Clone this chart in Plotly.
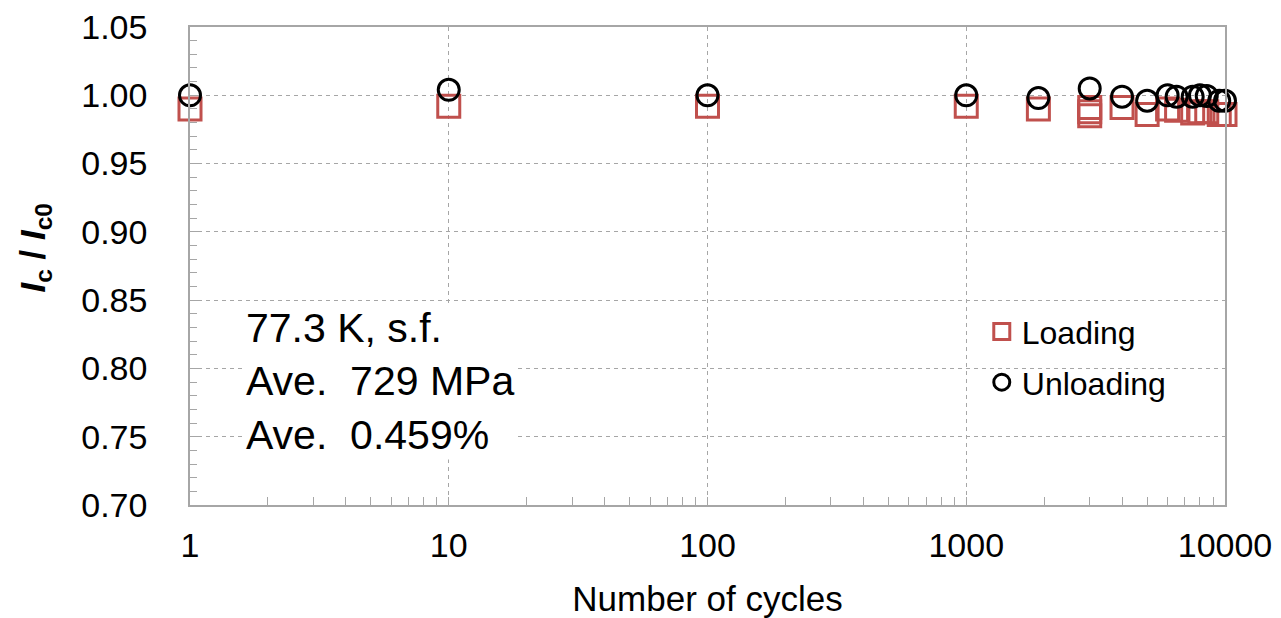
import plotly.graph_objects as go

# Cycle counts and normalised critical current (Ic / Ic0)
loading_cycles = [1, 10, 100, 1000, 1900, 3000, 3000, 3000, 4000, 5000,
                  6000, 6500, 7500, 8000, 8500, 9500, 10000]
loading_ratio = [0.990, 0.992, 0.992, 0.992, 0.990, 0.991, 0.988, 0.985, 0.991, 0.986,
                 0.990, 0.989, 0.987, 0.988, 0.988, 0.986, 0.986]

unloading_cycles = [1, 10, 100, 1000, 1900, 3000, 4000, 5000,
                    6000, 6500, 7500, 8000, 8500, 9500, 10000]
unloading_ratio = [1.000, 1.004, 1.000, 1.000, 0.998, 1.005, 0.999, 0.996,
                   1.000, 0.999, 0.999, 1.000, 0.9995, 0.996, 0.996]

x_tick_vals = [1, 10, 100, 1000, 10000]
x_tick_text = ["1", "10", "100", "1000", "10000"]

condition_lines = ["77.3 K, s.f.", "Ave.  729 MPa", "Ave.  0.459%"]

FONT = "Arial, Liberation Sans, sans-serif"
AXIS_GRAY = "#a6a6a6"
RED = "#c0504d"

fig = go.Figure()

fig.add_trace(go.Scatter(
    x=loading_cycles, y=loading_ratio, mode="markers", name="Loading",
    legendgroup="a",
    marker=dict(symbol="square-open", size=22, color=RED, line=dict(width=3, color=RED)),
    cliponaxis=False,
))
fig.add_trace(go.Scatter(
    x=unloading_cycles, y=unloading_ratio, mode="markers", name="Unloading",
    legendgroup="b",
    marker=dict(symbol="circle-open", size=21, color="black", line=dict(width=3, color="black")),
    cliponaxis=False,
))

# test-condition box
fig.add_annotation(
    xref="paper", yref="paper", x=0.052, y=0.258,
    xanchor="left", yanchor="middle", align="left",
    text="<br>".join(condition_lines),
    showarrow=False, bgcolor="white", borderpad=1,
    font=dict(family=FONT, size=41, color="black"),
)

# y-axis title, placed by hand
fig.add_annotation(
    xref="paper", yref="paper", x=-0.150, y=0.538,
    xanchor="center", yanchor="middle", textangle=-90,
    text="<b><i>I</i><sub>c</sub> / <i>I</i><sub>c0</sub></b>",
    showarrow=False, font=dict(family=FONT, size=35, color="black"),
)

fig.update_layout(
    width=1281, height=618,
    margin=dict(l=190, r=56, t=27, b=113),
    paper_bgcolor="white", plot_bgcolor="white",
    font=dict(family=FONT, color="black"),
    showlegend=True,
    legend=dict(
        x=0.765, y=0.42, xanchor="left", yanchor="top",
        bgcolor="rgba(0,0,0,0)", font=dict(size=32, color="black"),
        tracegroupgap=6, itemwidth=30,
    ),
    xaxis=dict(
        type="log", range=[0, 4], automargin=False,
        tickvals=x_tick_vals, ticktext=x_tick_text,
        tickfont=dict(size=34), ticks="inside", ticklen=8, tickcolor=AXIS_GRAY,
        ticklabelstandoff=9,
        minor=dict(dtick="D1", ticks="inside", ticklen=8, tickcolor=AXIS_GRAY, showgrid=False),
        showline=True, linecolor=AXIS_GRAY, linewidth=1.5, mirror=True,
        showgrid=True, gridcolor=AXIS_GRAY, gridwidth=1, griddash="4px,4px",
        zeroline=False,
        title=dict(text="Number of cycles", font=dict(size=35), standoff=36),
    ),
    yaxis=dict(
        range=[0.70, 1.05], dtick=0.05, tickformat=".2f", automargin=False,
        tickfont=dict(size=34), ticks="inside", ticklen=8, tickcolor=AXIS_GRAY,
        ticklabelstandoff=34,
        minor=dict(dtick=0.01, ticks="inside", ticklen=7, tickcolor=AXIS_GRAY, showgrid=False),
        showline=True, linecolor=AXIS_GRAY, linewidth=1.5, mirror=True,
        showgrid=True, gridcolor=AXIS_GRAY, gridwidth=1, griddash="4px,4px",
        zeroline=False,
    ),
)

fig.write_html("out.html")
